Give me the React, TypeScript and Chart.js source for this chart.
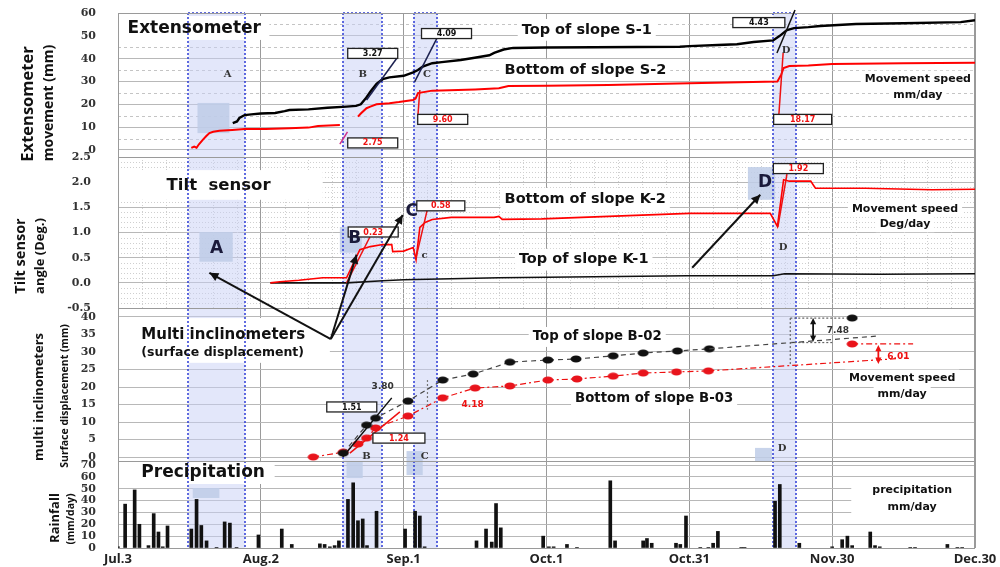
import { useEffect, useRef } from "react";
import { Chart, registerables } from "chart.js";
Chart.register(...registerables);

// ---------------- data ----------------
// x axis: days since Jul.3
const monthTickDays = [0, 30, 60, 90, 120, 150, 180];
const monthTickLabels = ["Jul.3", "Aug.2", "Sep.1", "Oct.1", "Oct.31", "Nov.30", "Dec.30"];

const extTicks = [0, 10, 20, 30, 40, 50, 60];
const tiltTicks = [-0.5, 0, 0.5, 1, 1.5, 2, 2.5];
const incTicks = [0, 5, 10, 15, 20, 25, 30, 35, 40];
const rainTicks = [0, 10, 20, 30, 40, 50, 60, 70];

// Extensometer S-1 (top of slope), mm
const extS1Days = [24.1, 25, 25.5, 26.6, 28, 30, 33, 35, 36, 40, 44, 48, 50, 51, 52, 53, 54.3, 55.6, 57, 60, 62, 63, 64, 66, 68, 72, 74.6, 78, 79, 81, 83, 90, 100, 118, 120, 126, 130, 133.5, 137.6, 139, 140.5, 142, 145, 147.5, 155, 165, 177, 180];
const extS1Values = [11.8, 12.5, 14, 15.3, 15.6, 16, 16.2, 17, 17.5, 17.8, 18.5, 19, 19.3, 20, 22.5, 25.5, 29, 31, 31.8, 32.5, 34, 35, 36.5, 38, 38.5, 39.4, 40.3, 41.5, 42.5, 44, 44.7, 44.9, 45, 45.2, 45.5, 46, 46.3, 47.3, 48, 50, 52.5, 53.4, 53.8, 54.3, 55.2, 55.5, 56, 56.8];

// Extensometer S-2 (bottom of slope), mm (null = gap)
const extS2Days = [15.4, 16, 16.5, 17, 17.8, 18.5, 19.2, 20, 21.3, 24, 26.6, 31, 36, 40, 42, 46.6, 48, 50.4, 51, 52.2, 53, 54.3, 57, 59, 62, 62.5, 63, 66, 75, 80, 82, 90, 103, 120, 138.5, 139.3, 139.8, 141, 145, 150, 165, 180];
const extS2Values = [0.9, 1.5, 1, 2.5, 4.4, 6, 7.4, 8, 8.4, 8.8, 9.2, 9.2, 9.5, 9.8, 10.5, 10.9, null, 14.6, 16, 18.3, 19, 20, 20.5, 21, 21.9, 22.5, 24.9, 26, 26.5, 27, 28, 28.1, 28.5, 29.2, 30, 33, 35.9, 36.8, 37, 37.7, 38, 38.2];

// Tilt sensor K-2 (bottom of slope), deg
const tiltK2Days = [32, 34, 38, 43, 48, 49, 50.8, 53, 55.6, 57.5, 57.7, 60, 62, 62.6, 63.4, 64.5, 66, 70, 79, 80, 80.7, 89, 103, 120, 137, 138.5, 139.8, 141, 145.5, 146, 146.5, 157, 171, 180];
const tiltK2Values = [0, 0.02, 0.05, 0.1, 0.1, 0.3, 0.66, 0.72, 0.76, 0.76, 0.62, 0.63, 0.7, 0.46, 1.1, 1.2, 1.26, 1.3, 1.3, 1.32, 1.26, 1.27, 1.32, 1.38, 1.38, 1.12, 2.05, 2.02, 2.02, 1.95, 1.88, 1.88, 1.85, 1.86];

// Tilt sensor K-1 (top of slope), deg
const tiltK1Days = [32, 48, 55.6, 60, 70, 80, 100, 119.5, 137.6, 140, 160, 180];
const tiltK1Values = [0, 0, 0.04, 0.06, 0.08, 0.1, 0.12, 0.14, 0.14, 0.18, 0.17, 0.18];

// Multi inclinometers, surface displacement mm
const incB02Days = [47.3, 52.2, 54.1, 60.9, 68.2, 74.6, 82.3, 90.3, 96.2, 104, 110.3, 117.5, 124.2, 140, 154.2];
const incB02Values = [1.1, 9.1, 11.1, 16, 22, 23.7, 27.1, 27.7, 28, 28.9, 29.7, 30.3, 30.9, null, 39.7];
const incB03Days = [41, 47.3, 50.4, 52.2, 54.1, 60.9, 68.2, 75, 82.3, 90.3, 96.4, 104, 110.3, 117.3, 124, 140, 154.2];
const incB03Values = [0, 1.4, 3.7, 5.4, 8.3, 11.7, 16.9, 19.7, 20.3, 22, 22.3, 23.1, 24, 24.3, 24.6, null, 32.3];

// Precipitation mm/day
const rainDays = [0, 1.5, 3.5, 4.5, 6.4, 7.5, 8.5, 9.4, 10.4, 15.4, 16.5, 17.5, 18.6, 20.7, 22.4, 23.5, 24.9, 29.5, 34.4, 36.5, 42.4, 43.4, 44.5, 45.5, 46.4, 48.3, 49.4, 50.4, 51.4, 52.3, 54.3, 60.3, 62.4, 63.4, 64.4, 75.3, 77.3, 78.5, 79.4, 80.4, 89.3, 90.5, 91.5, 94.3, 96.4, 103.4, 104.4, 110.3, 111.1, 112.1, 117.2, 118.1, 119.3, 122.3, 124, 125, 126, 130.9, 131.6, 138, 139, 143.1, 150, 152.1, 153.2, 154.2, 158, 159, 160, 166.4, 167.4, 174.2, 176.3, 177.3];
const rainValues = [1, 37, 49, 20, 2, 29, 13.5, 1, 18.6, 16, 41, 19, 6, 0.5, 22, 21, 0.5, 11, 16, 3, 3.5, 3, 1, 2, 6, 41, 55, 23, 24.5, 2, 31, 16, 31, 27, 1, 6, 16, 5, 37.5, 17, 10, 1, 1, 3, 0.5, 56.7, 6, 6, 8, 4, 4, 3, 27, 0.5, 0.5, 4, 14, 0.5, 0.5, 39.5, 53.6, 4, 1, 7, 10, 2, 13.5, 2, 1, 0.5, 0.5, 3, 0.5, 0.5];

// Event bands (days)
const bandNames = ["A", "B", "C", "D"];
const bandStart = [14.8, 47.2, 62.1, 137.6];
const bandEnd = [26.6, 55.4, 67.1, 142.4];

// ---------------- annotations (data coordinates) ----------------
const SANS = "'DejaVu Sans', sans-serif";
const TSANS = "'Open Sans', 'DejaVu Sans', sans-serif";
const SERIF = "'DejaVu Serif', serif";
const RED = "#ee1111";

const valueBoxes = [
  { t: "3.27", ax: "e", d: 53.5, v: 42.3, c: "#111", w: 50 },
  { t: "4.09", ax: "e", d: 69, v: 51, c: "#111", w: 50 },
  { t: "2.75", ax: "e", d: 53.5, v: 3.1, c: RED, w: 50 },
  { t: "9.60", ax: "e", d: 68.2, v: 13.4, c: RED, w: 50 },
  { t: "4.43", ax: "e", d: 134.6, v: 55.8, c: "#111", w: 52 },
  { t: "18.17", ax: "e", d: 143.8, v: 13.4, c: RED, w: 58 },
  { t: "0.23", ax: "t", d: 53.6, v: 1.01, c: RED, w: 50 },
  { t: "0.58", ax: "t", d: 67.8, v: 1.53, c: RED, w: 48 },
  { t: "1.92", ax: "t", d: 142.9, v: 2.27, c: RED, w: 50 },
  { t: "1.51", ax: "i", d: 49.1, v: 14.3, c: "#111", w: 50 },
  { t: "1.24", ax: "i", d: 59, v: 5.4, c: RED, w: 52 },
];

const tangents = [
  { ax: "e", d1: 58.6, v1: 40.3, d2: 52.2, v2: 21.9, c: "#1c2150" },
  { ax: "e", d1: 67, v1: 49, d2: 62.3, v2: 29.8, c: "#1c2150" },
  { ax: "e", d1: 48.2, v1: 7.9, d2: 46.6, v2: 2.6, c: "#d0308a" },
  { ax: "e", d1: 63.4, v1: 26.3, d2: 63, v2: 15.3, c: RED },
  { ax: "e", d1: 142.2, v1: 61.3, d2: 138.4, v2: 42.5, c: "#111" },
  { ax: "e", d1: 139.7, v1: 42.5, d2: 138.8, v2: 15.3, c: RED },
  { ax: "t", d1: 52.9, v1: 0.91, d2: 48, v2: 0, c: RED },
  { ax: "t", d1: 64.9, v1: 1.43, d2: 62.5, v2: 0.46, c: RED },
  { ax: "t", d1: 140.5, v1: 2.16, d2: 138.6, v2: 1.11, c: RED },
  { ax: "i", d1: 47.2, v1: 0, d2: 57.5, v2: 16.9, c: "#111" },
  { ax: "i", d1: 48.7, v1: 1.1, d2: 59.2, v2: 12.9, c: RED },
];

const smallLetters = [
  { t: "A", ax: "e", d: 23, v: 32.9 },
  { t: "B", ax: "e", d: 51.4, v: 32.9 },
  { t: "C", ax: "e", d: 64.9, v: 32.9 },
  { t: "D", ax: "e", d: 140.3, v: 43.8 },
  { t: "c", ax: "t", d: 64.4, v: 0.54 },
  { t: "D", ax: "t", d: 139.7, v: 0.71 },
  { t: "B", ax: "i", d: 52.2, v: 0.2 },
  { t: "C", ax: "i", d: 64.4, v: 0.2 },
  { t: "D", ax: "i", d: 139.5, v: 2.6 },
];

const bigLetters = [
  { t: "A", ax: "t", d: 20.7, v: 0.69 },
  { t: "B", ax: "t", d: 49.7, v: 0.87 },
  { t: "C", ax: "t", d: 61.7, v: 1.41 },
  { t: "D", ax: "t", d: 135.9, v: 2.0 },
];

const patches = [
  { ax: "e", d1: 16.7, d2: 23.4, v1: 20.6, v2: 7.4 },
  { ax: "t", d1: 17.1, d2: 24.1, v1: 1.01, v2: 0.42 },
  { ax: "t", d1: 46.6, d2: 51.2, v1: 1.11, v2: 0.6 },
  { ax: "t", d1: 132.3, d2: 138, v1: 2.3, v2: 1.65 },
  { ax: "r", d1: 48, d2: 51.4, v1: 72.5, v2: 59 },
  { ax: "r", d1: 60.6, d2: 64, v1: 73.4, v2: 61.5 },
  { ax: "i", d1: 60.6, d2: 64, v1: 1.7, v2: -1.14 },
  { ax: "r", d1: 15.7, d2: 21.3, v1: 50.6, v2: 42.2 },
  { ax: "i", d1: 133.8, d2: 137.4, v1: 2.6, v2: -1.14 },
];

const whiteBoxes = [
  { ax: "e", d1: 0, d2: 31.8, v1: 58.7, v2: 48.2 },
  { ax: "t", d1: 0, d2: 43, v1: 2.24, v2: 1.65 },
  { ax: "i", d1: 0, d2: 44.5, v1: 39.7, v2: 26.9 },
  { ax: "r", d1: 0, d2: 32.9, v1: 72.5, v2: 54 },
  { ax: "r", d1: 153.8, d2: 180, v1: 55.6, v2: 21.9 },
];

const labels = [
  { t: "Extensometer", ax: "e", d: 2, v: 53, f: `bold 17px ${SANS}`, c: "#111", a: "left", bg: false },
  { t: "Top of slope S-1", ax: "e", d: 84.8, v: 52.6, f: `bold 14.5px ${SANS}`, c: "#111", a: "left", bg: true },
  { t: "Bottom of slope S-2", ax: "e", d: 81.2, v: 35, f: `bold 14.5px ${SANS}`, c: "#111", a: "left", bg: true },
  { t: "Movement speed", ax: "e", d: 168, v: 31.1, f: `bold 11px ${SANS}`, c: "#111", a: "center", bg: true },
  { t: "mm/day", ax: "e", d: 168, v: 24.1, f: `bold 11px ${SANS}`, c: "#111", a: "center", bg: true },
  { t: "Tilt  sensor", ax: "t", d: 10.2, v: 1.92, f: `bold 16.5px ${SANS}`, c: "#111", a: "left", bg: false },
  { t: "Bottom of slope K-2", ax: "t", d: 81.2, v: 1.67, f: `bold 14.5px ${SANS}`, c: "#111", a: "left", bg: true },
  { t: "Top of slope K-1", ax: "t", d: 84.2, v: 0.46, f: `bold 14.5px ${SANS}`, c: "#111", a: "left", bg: true },
  { t: "Movement speed", ax: "t", d: 165.3, v: 1.47, f: `bold 11px ${SANS}`, c: "#111", a: "center", bg: true },
  { t: "Deg/day", ax: "t", d: 165.3, v: 1.17, f: `bold 11px ${SANS}`, c: "#111", a: "center", bg: true },
  { t: "Multi inclinometers", ax: "i", d: 4.9, v: 34.9, f: `bold 15px ${SANS}`, c: "#111", a: "left", bg: false },
  { t: "(surface displacement)", ax: "i", d: 4.9, v: 29.7, f: `bold 12.5px ${SANS}`, c: "#111", a: "left", bg: false },
  { t: "Top of slope B-02", ax: "i", d: 87.1, v: 34.3, f: `bold 13.3px ${SANS}`, c: "#111", a: "left", bg: true },
  { t: "Bottom of slope B-03", ax: "i", d: 96, v: 16.6, f: `bold 13.3px ${SANS}`, c: "#111", a: "left", bg: true },
  { t: "Movement speed", ax: "i", d: 164.7, v: 22.6, f: `bold 11px ${SANS}`, c: "#111", a: "center", bg: true },
  { t: "mm/day", ax: "i", d: 164.7, v: 18, f: `bold 11px ${SANS}`, c: "#111", a: "center", bg: true },
  { t: "3.80", ax: "i", d: 55.6, v: 20, f: `bold 9px ${SANS}`, c: "#333", a: "center", bg: false },
  { t: "4.18", ax: "i", d: 74.5, v: 14.9, f: `bold 9px ${SANS}`, c: RED, a: "center", bg: false },
  { t: "7.48", ax: "i", d: 151.2, v: 36, f: `bold 9px ${SANS}`, c: "#333", a: "center", bg: false },
  { t: "6.01", ax: "i", d: 163.9, v: 28.6, f: `bold 9px ${SANS}`, c: RED, a: "center", bg: false },
  { t: "Precipitation", ax: "r", d: 4.9, v: 64, f: `bold 17px ${SANS}`, c: "#111", a: "left", bg: false },
  { t: "precipitation", ax: "r", d: 166.8, v: 48.9, f: `bold 11px ${SANS}`, c: "#111", a: "center", bg: false },
  { t: "mm/day", ax: "r", d: 166.8, v: 34.6, f: `bold 11px ${SANS}`, c: "#111", a: "center", bg: false },
];

const arrows = [
  { ax1: "i", d1: 44.7, v1: 33.7, ax2: "t", d2: 19.2, v2: 0.2 },
  { ax1: "i", d1: 44.7, v1: 33.7, ax2: "t", d2: 50.1, v2: 0.56 },
  { ax1: "i", d1: 44.7, v1: 33.7, ax2: "t", d2: 59.8, v2: 1.35 },
  { ax1: "t", d1: 120.6, v1: 0.3, ax2: "t", d2: 134.9, v2: 1.75 },
];

const extensionLines = [
  { ax: "i", d1: 124.2, v1: 30.9, d2: 160, v2: 34.6, c: "#444", dash: [5, 4] },
  { ax: "i", d1: 124, v1: 24.6, d2: 165.8, v2: 28.3, c: RED, dash: [6, 3, 2, 3] },
  { ax: "i", d1: 154.2, v1: 32.3, d2: 167, v2: 32.3, c: RED, dash: [6, 3, 2, 3] },
  { ax: "i", d1: 141.2, v1: 39.7, d2: 152.5, v2: 39.7, c: "#666", dash: [2, 2] },
  { ax: "i", d1: 141.2, v1: 39.7, d2: 141.2, v2: 26.3, c: "#666", dash: [2, 2] },
  { ax: "i", d1: 141.2, v1: 32.7, d2: 150, v2: 32.7, c: "#666", dash: [2, 2] },
  { ax: "i", d1: 65, v1: 22, d2: 65, v2: 13.5, c: "#777", dash: [2, 2] },
];

const doubleArrows = [
  { ax: "i", d: 146, v1: 39.7, v2: 32.9, c: "#111" },
  { ax: "i", d: 159.7, v1: 32, v2: 26.6, c: RED },
];

const axisTitles = [
  { t: "Extensometer", x: 28, y: 104, f: `bold 16.5px ${TSANS}` },
  { t: "movement (mm)", x: 49, y: 103, f: `bold 14px ${TSANS}` },
  { t: "Tilt sensor", x: 21, y: 256, f: `bold 14.5px ${TSANS}` },
  { t: "angle (Deg.)", x: 40, y: 256, f: `bold 13px ${TSANS}` },
  { t: "multi inclinometers", x: 39, y: 397, f: `bold 13px ${TSANS}` },
  { t: "Surface displacement (mm)", x: 65, y: 396, f: `bold 10.5px ${TSANS}` },
  { t: "Rainfall", x: 55, y: 518, f: `bold 13px ${TSANS}` },
  { t: "(mm/day)", x: 71, y: 519, f: `bold 10.5px ${TSANS}` },
];

// ---------------- helpers ----------------
function pts(days: number[], values: (number | null)[]) {
  return days.map((d, i) => ({ x: d, y: values[i] }));
}

function ellipseImg(color: string) {
  const c = document.createElement("canvas");
  c.width = 12;
  c.height = 8;
  const g = c.getContext("2d")!;
  g.fillStyle = color;
  g.beginPath();
  g.ellipse(6, 4, 5.5, 3.5, 0, 0, Math.PI * 2);
  g.fill();
  return c;
}

function yScale(weight: number, min: number, max: number, ticks: number[], fmt: (v: number) => string, gap: number) {
  return {
    type: "linear",
    position: "left",
    stack: "panels",
    stackWeight: weight,
    min,
    max,
    afterBuildTicks: (s: any) => {
      s.ticks = ticks.map((v) => ({ value: v }));
    },
    afterFit: (s: any) => {
      s.width = 118;
    },
    ticks: {
      callback: (v: any) => fmt(Number(v)),
      font: { family: "'DejaVu Serif', serif", weight: "bold", size: 11 },
      color: "#333",
      padding: 0,
      autoSkip: false,
    },
    grid: {
      color: "#b8b8b8",
      lineWidth: 1,
      drawTicks: true,
      tickLength: gap,
      tickColor: "rgba(0,0,0,0)",
    },
    border: { display: false },
  };
}

const plugin = {
  id: "annotations",
  beforeDatasetsDraw(chart: any) {
    const ctx = chart.ctx;
    const X = (d: number) => chart.scales.x.getPixelForValue(d);
    const Y = (ax: string, v: number) => chart.scales[ax].getPixelForValue(v);
    const { left, right } = chart.chartArea;
    ctx.save();
    // minor dotted grids
    ctx.lineWidth = 1;
    ctx.strokeStyle = "#c4c4c4";
    ctx.setLineDash([3, 3]);
    for (let v = 5; v < 60; v += 10) {
      const y = Math.round(Y("e", v)) + 0.5;
      ctx.beginPath();
      ctx.moveTo(left, y);
      ctx.lineTo(right, y);
      ctx.stroke();
    }
    ctx.strokeStyle = "#cfcfcf";
    ctx.setLineDash([1, 2]);
    for (let k = -4; k < 25; k++) {
      if (k % 5 === 0) continue;
      const y = Math.round(Y("t", k / 10)) + 0.5;
      ctx.beginPath();
      ctx.moveTo(left, y);
      ctx.lineTo(right, y);
      ctx.stroke();
    }
    const tTop = chart.scales.t.top;
    const tBot = chart.scales.t.bottom;
    for (let d = 5; d < 180; d += 5) {
      if (d % 30 === 0) continue;
      const x = Math.round(X(d)) + 0.5;
      ctx.beginPath();
      ctx.moveTo(x, tTop);
      ctx.lineTo(x, tBot);
      ctx.stroke();
    }
    ctx.setLineDash([]);

    // bands
    const bTop = Y("e", 60);
    const bBot = Y("r", 0);
    bandNames.forEach((_, i) => {
      const x1 = X(bandStart[i]);
      const x2 = X(bandEnd[i]);
      ctx.fillStyle = "rgba(200,208,245,0.5)";
      ctx.fillRect(x1, bTop, x2 - x1, bBot - bTop);
    });
    // patches
    ctx.fillStyle = "rgba(190,204,232,0.85)";
    patches.forEach((p) => {
      const x1 = X(p.d1), x2 = X(p.d2);
      const y1 = Y(p.ax, p.v1), y2 = Y(p.ax, p.v2);
      ctx.fillRect(x1, y1, x2 - x1, y2 - y1);
    });
    // white label boxes
    ctx.fillStyle = "#ffffff";
    whiteBoxes.forEach((b) => {
      const x1 = X(b.d1), x2 = X(b.d2);
      const y1 = Y(b.ax, b.v1), y2 = Y(b.ax, b.v2);
      ctx.fillRect(x1 + 1, y1, x2 - x1 - 1, y2 - y1);
    });
    labels.forEach((l) => {
      if (!l.bg) return;
      ctx.font = l.f;
      const w = ctx.measureText(l.t).width;
      const x = X(l.d);
      const y = Y(l.ax, l.v);
      const x0 = l.a === "left" ? x : x - w / 2;
      const h = parseFloat(l.f.split(" ")[1]);
      ctx.fillRect(x0 - 4, y - h * 0.75, w + 8, h * 1.5);
    });
    // band dashed borders
    ctx.strokeStyle = "#2c3bd6";
    ctx.lineWidth = 1.5;
    ctx.setLineDash([2, 2]);
    bandNames.forEach((_, i) => {
      const x1 = Math.round(X(bandStart[i]));
      const x2 = Math.round(X(bandEnd[i]));
      ctx.beginPath();
      ctx.moveTo(x1, bTop);
      ctx.lineTo(x1, bBot);
      ctx.moveTo(x2, bTop);
      ctx.lineTo(x2, bBot);
      ctx.moveTo(x1, bTop);
      ctx.lineTo(x2, bTop);
      ctx.stroke();
    });
    ctx.setLineDash([]);
    // panel borders
    ctx.strokeStyle = "#9a9a9a";
    ctx.lineWidth = 1;
    ["e", "t", "i", "r"].forEach((ax) => {
      const s = chart.scales[ax];
      ctx.strokeRect(left + 0.5, Math.round(s.top) + 0.5, right - left - 1, Math.round(s.bottom - s.top));
    });
    ctx.restore();
  },
  afterDatasetsDraw(chart: any) {
    const ctx = chart.ctx;
    const X = (d: number) => chart.scales.x.getPixelForValue(d);
    const Y = (ax: string, v: number) => chart.scales[ax].getPixelForValue(v);
    ctx.save();
    ctx.textBaseline = "middle";

    // extension / trend lines
    extensionLines.forEach((l) => {
      ctx.strokeStyle = l.c;
      ctx.lineWidth = 1.2;
      ctx.setLineDash(l.dash);
      ctx.beginPath();
      ctx.moveTo(X(l.d1), Y(l.ax, l.v1));
      ctx.lineTo(X(l.d2), Y(l.ax, l.v2));
      ctx.stroke();
    });
    ctx.setLineDash([]);

    // tangent speed lines
    tangents.forEach((l) => {
      ctx.strokeStyle = l.c;
      ctx.lineWidth = 1.5;
      ctx.beginPath();
      ctx.moveTo(X(l.d1), Y(l.ax, l.v1));
      ctx.lineTo(X(l.d2), Y(l.ax, l.v2));
      ctx.stroke();
    });

    // value boxes
    valueBoxes.forEach((b) => {
      const cx = X(b.d);
      const cy = Y(b.ax, b.v);
      const h = 10;
      ctx.fillStyle = "#fff";
      ctx.fillRect(cx - b.w / 2, cy - h / 2, b.w, h);
      ctx.strokeStyle = "#222";
      ctx.lineWidth = 1.3;
      ctx.strokeRect(cx - b.w / 2, cy - h / 2, b.w, h);
      ctx.fillStyle = b.c;
      ctx.font = `bold 8px ${SANS}`;
      ctx.textAlign = "center";
      ctx.fillText(b.t, cx, cy + 0.5);
    });

    // small serif letters
    smallLetters.forEach((l) => {
      ctx.font = `bold 10px ${SERIF}`;
      ctx.fillStyle = "#333";
      ctx.textAlign = "center";
      ctx.fillText(l.t, X(l.d), Y(l.ax, l.v));
    });
    // big letters
    bigLetters.forEach((l) => {
      ctx.font = `bold 17px ${SANS}`;
      ctx.fillStyle = "#1a1a3a";
      ctx.textAlign = "center";
      ctx.fillText(l.t, X(l.d), Y(l.ax, l.v));
    });

    // labels
    labels.forEach((l) => {
      ctx.font = l.f;
      ctx.fillStyle = l.c;
      ctx.textAlign = l.a;
      ctx.fillText(l.t, X(l.d), Y(l.ax, l.v));
    });

    // arrows
    const head = (x1: number, y1: number, x2: number, y2: number, size: number) => {
      const a = Math.atan2(y2 - y1, x2 - x1);
      ctx.beginPath();
      ctx.moveTo(x2, y2);
      ctx.lineTo(x2 - size * Math.cos(a - 0.45), y2 - size * Math.sin(a - 0.45));
      ctx.lineTo(x2 - size * Math.cos(a + 0.45), y2 - size * Math.sin(a + 0.45));
      ctx.closePath();
      ctx.fill();
    };
    ctx.strokeStyle = "#111";
    ctx.fillStyle = "#111";
    ctx.lineWidth = 2;
    arrows.forEach((a) => {
      const x1 = X(a.d1), y1 = Y(a.ax1, a.v1);
      const x2 = X(a.d2), y2 = Y(a.ax2, a.v2);
      ctx.beginPath();
      ctx.moveTo(x1, y1);
      ctx.lineTo(x2, y2);
      ctx.stroke();
      head(x1, y1, x2, y2, 10);
    });
    // double arrows
    doubleArrows.forEach((a) => {
      const x = X(a.d), y1 = Y(a.ax, a.v1), y2 = Y(a.ax, a.v2);
      ctx.strokeStyle = a.c;
      ctx.fillStyle = a.c;
      ctx.lineWidth = 1.8;
      ctx.beginPath();
      ctx.moveTo(x, y1 + 3);
      ctx.lineTo(x, y2 - 3);
      ctx.stroke();
      head(x, y2, x, y1, 7);
      head(x, y1, x, y2, 7);
    });

    // axis titles (rotated)
    axisTitles.forEach((t) => {
      ctx.save();
      ctx.translate(t.x, t.y);
      ctx.rotate(-Math.PI / 2);
      ctx.font = t.f;
      ctx.fillStyle = "#111";
      ctx.textAlign = "center";
      ctx.fillText(t.t, 0, 0);
      ctx.restore();
    });
    ctx.restore();
  },
};

export default function App() {
  const ref = useRef<HTMLCanvasElement>(null);
  useEffect(() => {
    const canvas = ref.current;
    if (!canvas) return;
    const blackDot = ellipseImg("#111111");
    const redDot = ellipseImg("#e8141c");
    const chart = new Chart(canvas, {
      type: "line",
      data: {
        datasets: [
          {
            label: "Top of slope S-1",
            data: pts(extS1Days, extS1Values),
            yAxisID: "e",
            borderColor: "#000",
            borderWidth: 2.4,
            pointRadius: 0,
          },
          {
            label: "Bottom of slope S-2",
            data: pts(extS2Days, extS2Values),
            yAxisID: "e",
            borderColor: "#ff0000",
            borderWidth: 2,
            pointRadius: 0,
            spanGaps: false,
          },
          {
            label: "Bottom of slope K-2",
            data: pts(tiltK2Days, tiltK2Values),
            yAxisID: "t",
            borderColor: "#ff0000",
            borderWidth: 1.6,
            pointRadius: 0,
          },
          {
            label: "Top of slope K-1",
            data: pts(tiltK1Days, tiltK1Values),
            yAxisID: "t",
            borderColor: "#111",
            borderWidth: 1.6,
            pointRadius: 0,
          },
          {
            label: "Top of slope B-02",
            data: pts(incB02Days, incB02Values),
            yAxisID: "i",
            borderColor: "#444",
            borderWidth: 1.2,
            borderDash: [5, 4],
            pointStyle: blackDot,
            pointRadius: 5,
            spanGaps: false,
          },
          {
            label: "Bottom of slope B-03",
            data: pts(incB03Days, incB03Values),
            yAxisID: "i",
            borderColor: "#ee1111",
            borderWidth: 1.2,
            borderDash: [6, 3, 2, 3],
            pointStyle: redDot,
            pointRadius: 5,
            spanGaps: false,
          },
          {
            type: "bar",
            label: "Rainfall",
            data: pts(rainDays, rainValues),
            yAxisID: "r",
            backgroundColor: "#111",
            barThickness: 3,
            grouped: false,
          } as any,
        ],
      },
      options: {
        responsive: false,
        animation: false,
        devicePixelRatio: 1,
        events: [],
        layout: { autoPadding: false, padding: { top: 13, right: 25, left: 0, bottom: 0 } },
        elements: { line: { tension: 0 } },
        plugins: { legend: { display: false }, tooltip: { enabled: false } },
        scales: {
          x: {
            type: "linear",
            position: "bottom",
            offset: false,
            min: 0,
            max: 180,
            afterBuildTicks: (s: any) => {
              s.ticks = monthTickDays.map((v) => ({ value: v }));
            },
            afterFit: (s: any) => {
              s.height = 19;
            },
            ticks: {
              callback: (_v: any, i: number) => monthTickLabels[i],
              font: { family: "'Open Sans', sans-serif", weight: "bold", size: 13 },
              color: "#222",
              padding: 3,
              maxRotation: 0,
              autoSkip: false,
            },
            grid: { color: "#9a9a9a", lineWidth: 1, drawTicks: false, offset: false },
            border: { display: false },
          },
          r: yScale(87, 0, 73.4, rainTicks, (v) => String(v), 22),
          i: yScale(153, -1.14, 42.57, incTicks, (v) => String(v), 22),
          t: yScale(151, -0.5, 2.5, tiltTicks, (v) => v.toFixed(1), 27),
          e: yScale(144, -3.07, 60, extTicks, (v) => String(v), 22),
        } as any,
      },
      plugins: [plugin],
    });
    return () => chart.destroy();
  }, []);
  return (
    <div style={{ position: "absolute", left: 0, top: 0, width: 1000, height: 567, background: "#fff" }}>
      <canvas ref={ref} width={1000} height={567} style={{ display: "block" }} />
    </div>
  );
}
